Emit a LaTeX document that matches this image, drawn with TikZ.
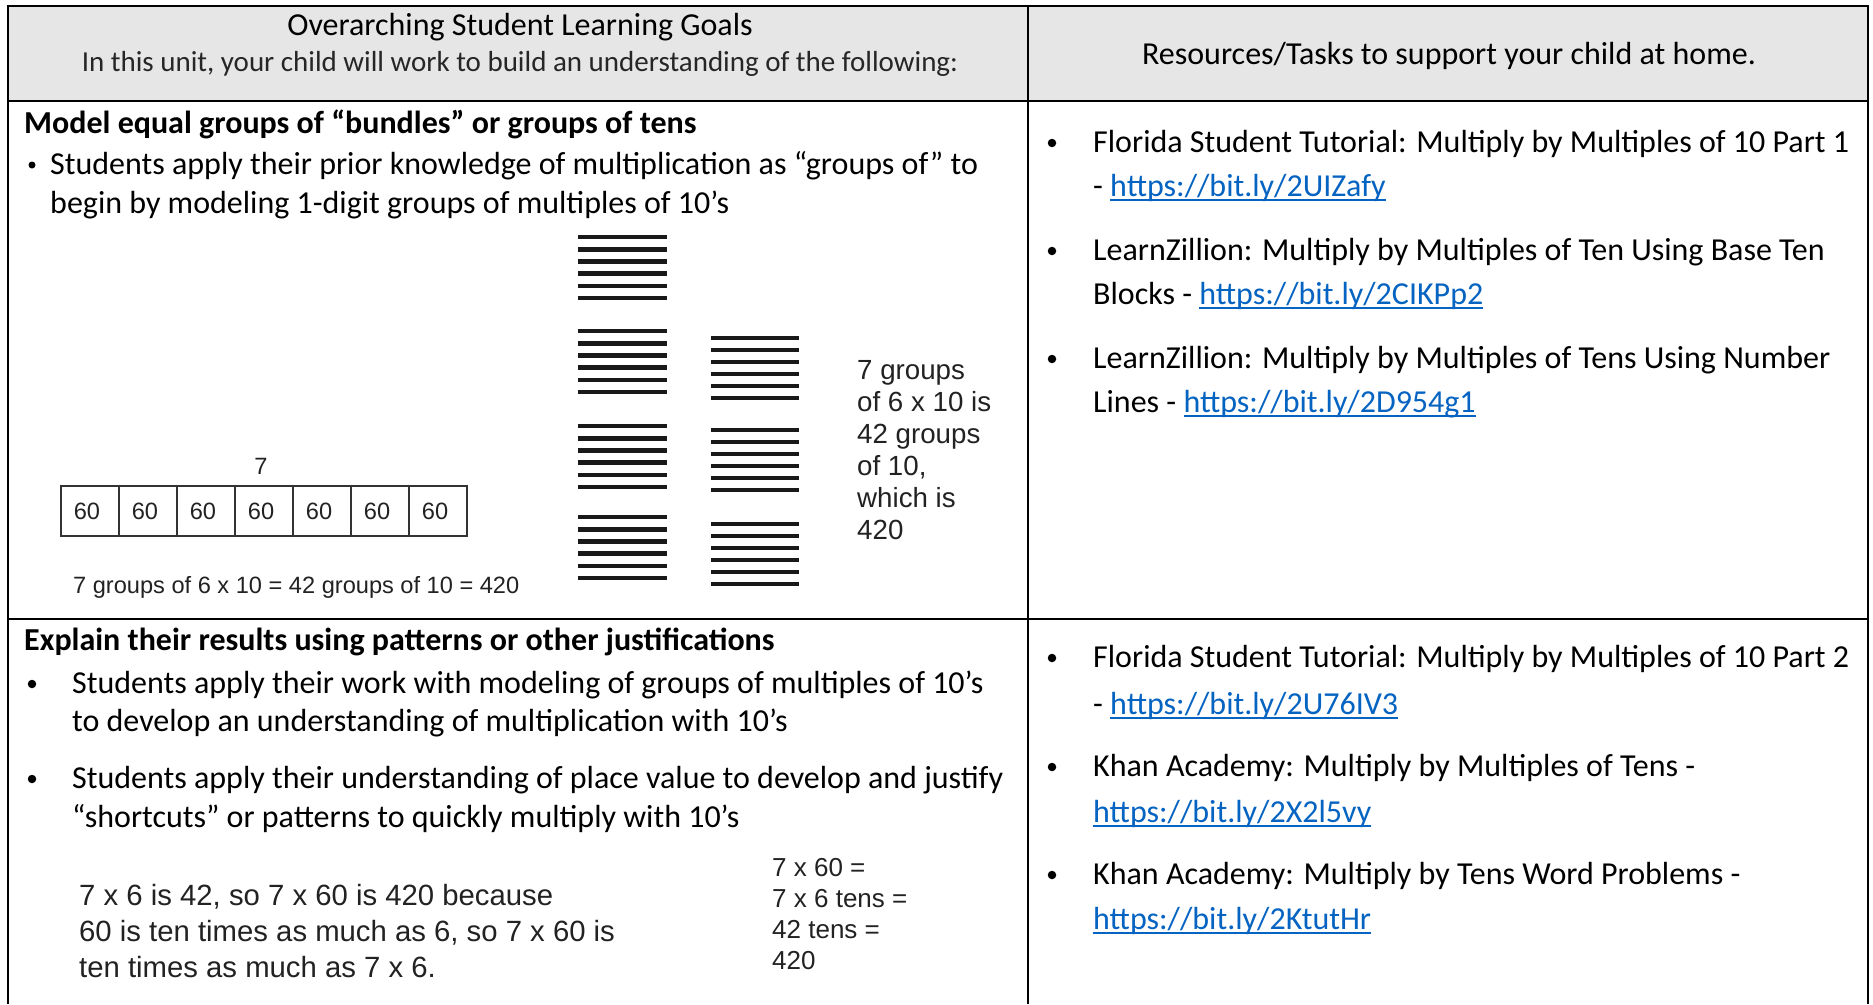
\documentclass[tikz,border=0pt]{standalone}
\usepackage{fontspec}
\setmainfont{Carlito}
\newfontfamily\arialf{Liberation Sans}
\definecolor{hdrgray}{HTML}{E7E6E6}
\definecolor{linkblue}{HTML}{0563C1}
\definecolor{figtext}{HTML}{222222}
\newcommand\weblink[1]{\begingroup\setbox0=\hbox{\color{linkblue}#1}\rlap{\color{linkblue}\rule[-4.5pt]{\wd0}{1.8pt}}\box0\endgroup}
\tikzset{
  body/.style={inner sep=0pt, anchor=mid west, yshift=-7pt, font=\fontsize{32}{38}\selectfont},
  bodyb/.style={body, font=\fontsize{32}{38}\selectfont\bfseries},
  hdr/.style={inner sep=0pt, anchor=mid, yshift=-7pt, font=\fontsize{32}{38}\selectfont},
  hdrsub/.style={inner sep=0pt, anchor=mid, yshift=-6pt, text=black!85, font=\fontsize{29}{34}\selectfont},
  fig/.style={inner sep=0pt, anchor=mid west, yshift=-6pt, text=figtext, font=\arialf\fontsize{27.7}{32}\selectfont},
  figs/.style={inner sep=0pt, anchor=mid, yshift=-6pt, text=figtext, font=\arialf\fontsize{23.6}{27}\selectfont},
  figsw/.style={figs, anchor=mid west},
  figbig/.style={fig, font=\arialf\fontsize{29.3}{34}\selectfont},
  figmid/.style={fig, font=\arialf\fontsize{26}{30}\selectfont},
  rule/.style={line width=2.4pt, black},
  cellbox/.style={line width=1.1pt, black!80},
  stick/.style={line width=4.6pt, black!90},
  dot/.style={circle, fill=black, inner sep=0pt, minimum size=8.5pt},
  sdot/.style={circle, fill=black, inner sep=0pt, minimum size=7pt}
}
\begin{document}
\begin{tikzpicture}[x=1pt,y=-1pt]
\useasboundingbox (0,0) rectangle (1873,1004);
\fill[white] (0,0) rectangle (1873,1004);
% header
\fill[hdrgray] (8,6) rectangle (1868,101);
\draw[rule] (8,1004) -- (8,6) -- (1868,6) -- (1868,1004);
\draw[rule] (8,101) -- (1868,101);
\draw[rule] (1028,6) -- (1028,1004);
\draw[rule] (8,619) -- (1868,619);

\node[hdr] (h1) at (520,26) {Overarching Student Learning Goals};
\node[hdrsub] (h2) at (520,63) {In this unit, your child will work to build an understanding of the following:};
\node[hdr] (h3) at (1449,55) {Resources/Tasks to support your child at home.};

% row 1 left
\node[bodyb] (g1) at (24,124) {Model equal groups of “bundles” or groups of tens};
\node[sdot] (b1) at (32,165) {};
\node[body] (g1a) at (50,165) {Students apply their prior knowledge of multiplication as “groups of” to};
\node[body] (g1b) at (50,204) {begin by modeling 1-digit groups of multiples of 10’s};

% tape diagram
\node[figs] (seven) at (261,466) {7};
\draw[cellbox] (61,486) rectangle (467,536);
\foreach \k in {1,...,6} { \draw[cellbox] (61+58*\k,486) -- (61+58*\k,536); }
\foreach \k in {0,...,6} { \node[figs] (c\k) at (87+58*\k,511) {60}; }
\node[figsw] (eq1) at (73,585) {7 groups of 6 x 10 = 42 groups of 10 = 420};

% bundles
\foreach \y in {237,331,426,517} {
  \foreach \j in {0,...,5} { \draw[stick] (578,\y+12.2*\j) -- (667,\y+12.2*\j); }
}
\foreach \y in {338,430,524} {
  \foreach \j in {0,...,5} { \draw[stick] (711,\y+12*\j) -- (799,\y+12*\j); }
}
\node[fig] (t1) at (857,371) {7 groups};
\node[fig] (t2) at (857,403) {of 6 x 10 is};
\node[fig] (t3) at (857,435) {42 groups};
\node[fig] (t4) at (857,467) {of 10,};
\node[fig] (t5) at (857,499) {which is};
\node[fig] (t6) at (857,531) {420};

% row 1 right
\node[dot] (r1) at (1052,143) {};
\node[body] (r1a) at (1093,143) {Florida Student Tutorial: Multiply by Multiples of 10 Part 1};
\node[body] (r1b) at (1093,187) {- \weblink{https://bit.ly/2UIZafy}};
\node[dot] (r2) at (1052,251) {};
\node[body] (r2a) at (1093,251) {LearnZillion: Multiply by Multiples of Ten Using Base Ten};
\node[body] (r2b) at (1093,295) {Blocks - \weblink{https://bit.ly/2CIKPp2}};
\node[dot] (r3) at (1052,359) {};
\node[body] (r3a) at (1093,359) {LearnZillion: Multiply by Multiples of Tens Using Number};
\node[body] (r3b) at (1093,403) {Lines - \weblink{https://bit.ly/2D954g1}};

% row 2 left
\node[bodyb] (g2) at (24,641) {Explain their results using patterns or other justifications};
\node[dot] (b2) at (32,684) {};
\node[body] (g2a) at (72,684) {Students apply their work with modeling of groups of multiples of 10’s};
\node[body] (g2b) at (72,722) {to develop an understanding of multiplication with 10’s};
\node[dot] (b3) at (32,779) {};
\node[body] (g2c) at (72,779) {Students apply their understanding of place value to develop and justify};
\node[body] (g2d) at (72,818) {“shortcuts” or patterns to quickly multiply with 10’s};

\node[figbig] (e1) at (79,897) {7 x 6 is 42, so 7 x 60 is 420 because};
\node[figbig] (e2) at (79,933) {60 is ten times as much as 6, so 7 x 60 is};
\node[figbig] (e3) at (79,969) {ten times as much as 7 x 6.};
\node[figmid] (f1) at (772,868) {7 x 60 =};
\node[figmid] (f2) at (772,899) {7 x 6 tens =};
\node[figmid] (f3) at (772,930) {42 tens =};
\node[figmid] (f4) at (772,961) {420};

% row 2 right
\node[dot] (s1) at (1052,658) {};
\node[body] (s1a) at (1093,658) {Florida Student Tutorial: Multiply by Multiples of 10 Part 2};
\node[body] (s1b) at (1093,705) {- \weblink{https://bit.ly/2U76IV3}};
\node[dot] (s2) at (1052,767) {};
\node[body] (s2a) at (1093,767) {Khan Academy: Multiply by Multiples of Tens -};
\node[body] (s2b) at (1093,813) {\weblink{https://bit.ly/2X2l5vy}};
\node[dot] (s3) at (1052,875) {};
\node[body] (s3a) at (1093,875) {Khan Academy: Multiply by Tens Word Problems -};
\node[body] (s3b) at (1093,920) {\weblink{https://bit.ly/2KtutHr}};
\end{tikzpicture}
\end{document}
